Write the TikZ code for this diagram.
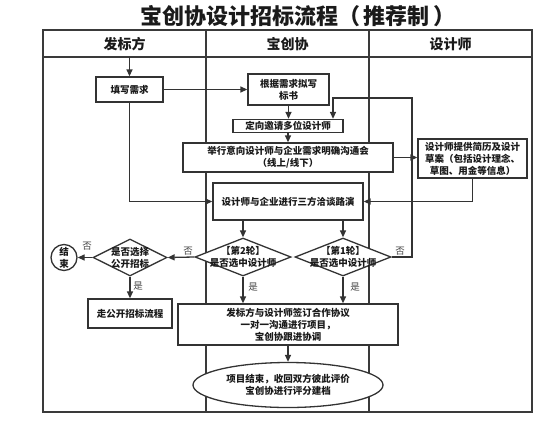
\documentclass[tikz,border=0pt]{standalone}
\usepackage{fontspec}
\setmainfont{Noto Sans CJK SC}
\usetikzlibrary{arrows.meta,shapes.geometric}
\definecolor{linec}{HTML}{333333}
\definecolor{tabc}{HTML}{3A3A3A}
\definecolor{txtc}{HTML}{1A1A1A}
\definecolor{lblc}{HTML}{444444}
\begin{document}
\begin{tikzpicture}[x=1pt,y=-1pt,
  tab/.style={draw=tabc,line width=1.2pt},
  box/.style={draw=linec,line width=1.3pt,fill=white,inner sep=0pt,align=center,text=txtc,font=\fontsize{9.5}{12}\selectfont\bfseries},
  dia/.style={diamond,draw=linec,line width=1.3pt,fill=white,inner sep=0pt},
  dtext/.style={align=center,text=txtc,inner sep=0pt,font=\fontsize{9.5}{12}\selectfont\bfseries},
  ell/.style={ellipse,draw=linec,line width=1.3pt,fill=white,inner sep=0pt,align=center,text=txtc,font=\fontsize{9.5}{12}\selectfont\bfseries},
  circ/.style={circle,draw=linec,line width=1.3pt,fill=white,inner sep=0pt,minimum size=26pt,align=center,text=txtc,font=\fontsize{9.5}{12}\selectfont\bfseries},
  arr/.style={draw=linec,line width=1.3pt,-{Triangle[length=7pt,width=6pt]}},
  lbl/.style={text=lblc,inner sep=0pt,font=\fontsize{9.5}{11}\selectfont},
  head/.style={text=txtc,inner sep=0pt,font=\fontsize{14}{16}\selectfont\bfseries},
]
\useasboundingbox (0,0) rectangle (553,431);
% title
\node[text=txtc,inner sep=0pt,font=\fontsize{22}{24}\selectfont\bfseries] (title) at (298,16) {宝创协设计招标流程（\,推荐制\,）};
% table
\draw[tab] (43,30) rectangle (532,412);
\draw[tab] (43,57) -- (532,57);
\draw[tab] (206,30) -- (206,412);
\draw[tab] (369,30) -- (369,412);
\node[head] (h1) at (124.5,44) {发标方};
\node[head] (h2) at (287.5,44) {宝创协};
\node[head] (h3) at (450.5,44) {设计师};
% nodes
\node[box,minimum width=67pt,minimum height=25pt] (fill) at (129.5,89.5) {填写需求};
\node[box,minimum width=81pt,minimum height=31pt] (bid) at (288.5,89.5) {根据需求拟写\\标书};
\node[box,minimum width=110pt,minimum height=13pt] (inv) at (288,126) {定向邀请多位设计师};
\node[box,minimum width=210pt,minimum height=29pt] (meet) at (288,157.5) {举行意向设计师与企业需求明确沟通会\\（线上/线下）};
\node[box,minimum width=109pt,minimum height=39pt] (prov) at (472.5,158.5) {设计师提供简历及设计\\草案（包括设计理念、\\草图、用金等信息）};
\node[box,minimum width=150pt,minimum height=37pt] (tri) at (288,201.5) {设计师与企业进行三方洽谈路演};
\node[dia,minimum width=96pt,minimum height=38pt] (d2) at (243,257) {};
\node[dtext] (d2t) at (243,257) {【第2轮】\\是否选中设计师};
\node[dia,minimum width=96pt,minimum height=38pt] (d1) at (343,257) {};
\node[dtext] (d1t) at (343,257) {【第1轮】\\是否选中设计师};
\node[dia,minimum width=74pt,minimum height=37pt] (dp) at (130,257.5) {};
\node[dtext] (dpt) at (130,257.5) {是否选择\\公开招标};
\node[circ] (end) at (64,257.5) {结\\束};
\node[box,minimum width=84pt,minimum height=29pt] (open) at (130,313.5) {走公开招标流程};
\node[box,minimum width=220pt,minimum height=41pt] (sign) at (288,324.5) {发标方与设计师签订合作协议\\一对一沟通进行项目，\\宝创协跟进协调};
\node[ell,minimum width=190pt,minimum height=45pt] (fin) at (288,385) {项目结束，收回双方彼此评价\\宝创协进行评分建档};
% connectors
\coordinate (st) at (129.5,57);
\coordinate (lp) at (412,98);
\draw[arr] (st) -- (fill.north);
\draw[arr] (fill.east) -- (bid.west);
\draw[arr] (bid.south) -- (bid.south |- inv.north);
\draw[arr] (inv.south) -- (inv.south |- meet.north);
\draw[arr] (meet.east) -- (meet.east -| prov.west);
\draw[arr] (prov.south) |- (tri.east);
\draw[arr] (fill.south) |- (tri.west);
\draw[arr] (tri.south -| d2.north) -- (d2.north);
\draw[arr] (tri.south -| d1.north) -- (d1.north);
\draw[arr] (d1.east) -| (lp) -| ([xshift=45pt]inv.north);
\draw[arr] (d2.west) -- (dp.east);
\draw[arr] (dp.west) -- (end.east);
\draw[arr] (dp.south) -- (open.north);
\draw[arr] (d2.south) -- (d2.south |- sign.north);
\draw[arr] (d1.south) -- (d1.south |- sign.north);
\draw[arr] (sign.south) -- (fin.north);
% labels
\node[lbl] (l1) at (188,251) {否};
\node[lbl] (l2) at (87,246.5) {否};
\node[lbl] (l3) at (138,286) {是};
\node[lbl] (l4) at (253,287) {是};
\node[lbl] (l5) at (355,287) {是};
\node[lbl] (l6) at (400,251) {否};
\end{tikzpicture}
\end{document}
